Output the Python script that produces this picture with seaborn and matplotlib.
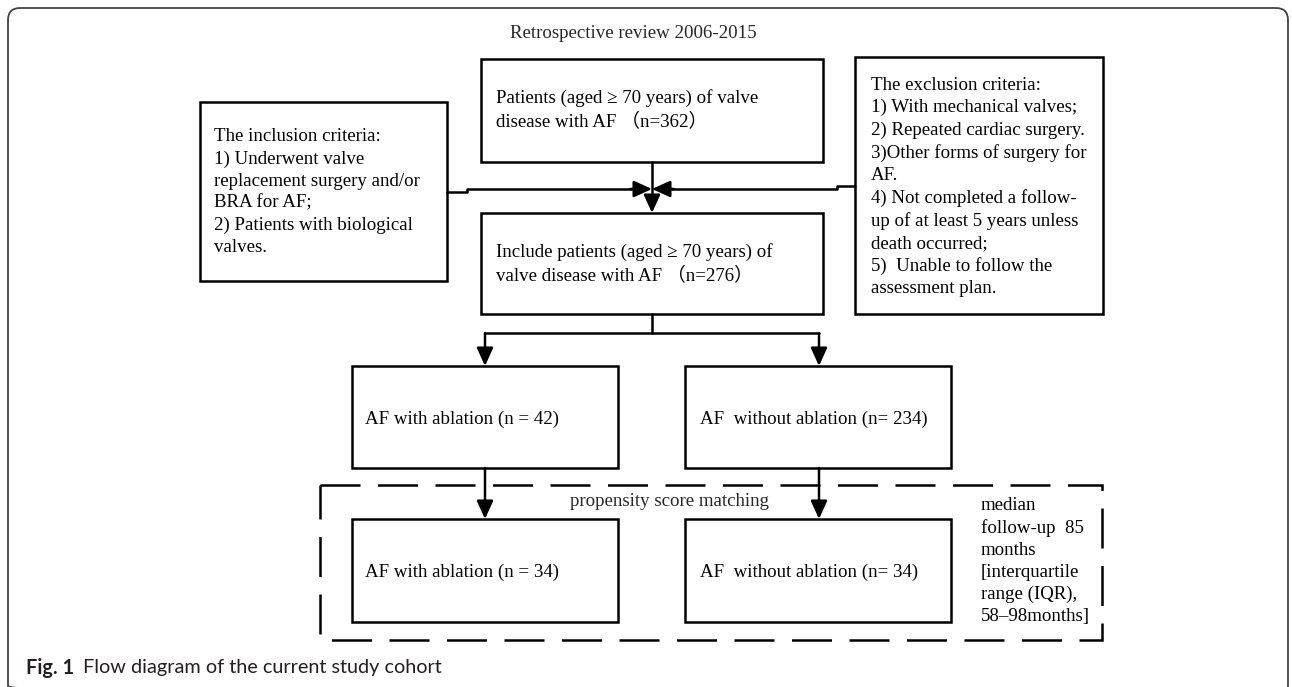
# flow diagram of the study cohort

import numpy as np
import matplotlib
matplotlib.use("Agg")
import matplotlib.pyplot as plt
from matplotlib.patches import Rectangle, FancyBboxPatch
import seaborn as sns

sns.set_theme(style="white")
plt.rcParams['font.family'] = ['Liberation Serif', 'Noto Sans CJK SC', 'DejaVu Sans']

# data
title_text = "Retrospective review 2006-2015"
n_total = 362
n_included = 276
n_ablation = [42, 34]
n_no_ablation = [234, 34]
inclusion_lines = ["The inclusion criteria:",
                   "1) Underwent valve",
                   "replacement surgery and/or",
                   "BRA for AF;",
                   "2) Patients with biological",
                   "valves."]
exclusion_lines = ["The exclusion criteria:",
                   "1) With mechanical valves;",
                   "2) Repeated cardiac surgery.",
                   "3)Other forms of surgery for",
                   "AF.",
                   "4) Not completed a follow-",
                   "up of at least 5 years unless",
                   "death occurred;",
                   "5)  Unable to follow the",
                   "assessment plan."]
followup_lines = ["median", "follow-up  85", "months", "[interquartile",
                  "range (IQR),", "58\u201398months]"]
psm_label = "propensity score matching"
caption_bold = "Fig. 1"
caption_rest = "Flow diagram of the current study cohort"

LW = 1.8
FS = 13.6


def box(ax, x0, y0, x1, y1):
    ax.add_patch(Rectangle((x0, y0), x1 - x0, y1 - y0, fill=False,
                           edgecolor='black', lw=LW, zorder=3))


def arrow(ax, start, tip):
    ax.annotate("", xy=tip, xytext=start,
                arrowprops=dict(arrowstyle="-|>,head_length=0.55,head_width=0.25",
                                color='black', lw=LW, shrinkA=0, shrinkB=0,
                                mutation_scale=20), zorder=4)


def block(ax, x, y, lines, **kw):
    ax.text(x, y, "\n".join(lines), ha='left', va='center', fontsize=FS,
            linespacing=1.38, color='black', **kw)


fig = plt.figure(figsize=(12.92, 6.87), dpi=100)
ax = fig.add_axes([0, 0, 1, 1])
ax.set_xlim(0, 1292)
ax.set_ylim(687, 0)
ax.axis('off')

# outer frame
ax.add_patch(FancyBboxPatch((8, 8), 1280, 690, boxstyle="round,pad=0,rounding_size=12",
                            fill=False, edgecolor='#444444', lw=1.3, zorder=1))

ax.text(633, 33, title_text, ha='center', va='center', fontsize=FS)

# top boxes
box(ax, 481, 59, 823, 162)
block(ax, 496, 110, ["Patients (aged \u2265 70 years) of valve",
                     f"disease with AF \uff08n={n_total}\uff09"])
box(ax, 200, 102, 447, 281)
block(ax, 214, 192, inclusion_lines)
box(ax, 855, 57, 1103, 314)
block(ax, 871, 187, exclusion_lines)

# connectors into junction
ax.plot([652, 652], [162, 199], color='black', lw=LW)
ax.plot([447, 467, 467, 640], [192, 192, 189, 189], color='black', lw=LW)
ax.plot([855, 837, 837, 664], [186, 186, 189, 189], color='black', lw=LW)
arrow(ax, (630, 189), (652, 189))
arrow(ax, (674, 189), (652, 189))
arrow(ax, (652, 195), (652, 213))

box(ax, 481, 213, 823, 314)
block(ax, 496, 264, ["Include patients (aged \u2265 70 years) of",
                     f"valve disease with AF \uff08n={n_included}\uff09"])

# split
ax.plot([652, 652], [314, 333], color='black', lw=LW)
ax.plot([485, 819], [333, 333], color='black', lw=LW)
arrow(ax, (485, 333), (485, 366))
arrow(ax, (819, 333), (819, 366))

box(ax, 352, 366, 618, 468)
box(ax, 685, 366, 951, 468)
block(ax, 365, 419, [f"AF with ablation (n = {n_ablation[0]})"])
block(ax, 700, 419, [f"AF  without ablation (n= {n_no_ablation[0]})"])

# propensity matching region
ax.add_patch(Rectangle((320, 485), 782, 155, fill=False, edgecolor='black',
                       lw=LW, linestyle=(0, (16, 7)), zorder=2))
ax.text(669, 502, psm_label, ha='center', va='center', fontsize=FS)
arrow(ax, (485, 468), (485, 519))
arrow(ax, (819, 468), (819, 519))

box(ax, 352, 519, 618, 622)
box(ax, 685, 519, 951, 622)
block(ax, 365, 572, [f"AF with ablation (n = {n_ablation[1]})"])
block(ax, 700, 572, [f"AF  without ablation (n= {n_no_ablation[1]})"])
block(ax, 981, 561, followup_lines)

# caption
ax.text(26, 668, caption_bold, ha='left', va='center', fontsize=14.3,
        fontweight='bold', family=['Lato', 'DejaVu Sans'], color='#231f20')
ax.text(83, 668, caption_rest, ha='left', va='center', fontsize=14.3,
        family=['Lato', 'DejaVu Sans'], color='#231f20')

fig.savefig('out.png', dpi=100)
